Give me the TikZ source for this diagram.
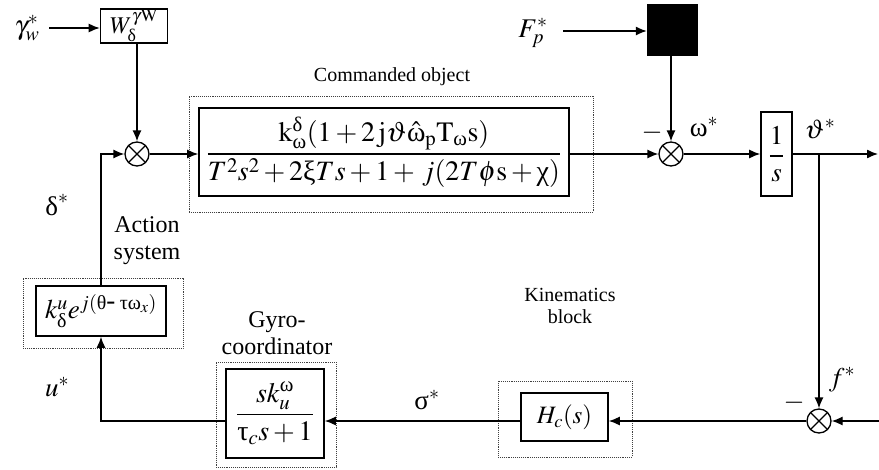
\documentclass[tikz,border=0pt]{standalone}
\usepackage{amsmath}
\usepackage{mathptmx}
\usepackage[no-math]{fontspec}
\setmainfont{Liberation Serif}
\usetikzlibrary{arrows.meta}
\newcommand{\gr}[1]{\text{\normalfont\upshape #1}}
\begin{document}
\begin{tikzpicture}[x=1pt,y=-1pt,
  blk/.style={draw,line width=1.6pt,inner sep=0pt,font=\fontsize{24}{28}\selectfont},
  frame/.style={draw=black!75,densely dotted,line width=0.9pt,inner sep=0pt},
  sumnode/.style={draw,circle,line width=1.3pt,minimum size=24pt,inner sep=0pt,
    path picture={\draw[line width=1.3pt] (path picture bounding box.north west)--(path picture bounding box.south east)
      (path picture bounding box.north east)--(path picture bounding box.south west);}},
  lbl/.style={inner sep=0pt,font=\fontsize{27}{30}\selectfont},
  captxt/.style={inner sep=0pt,font=\fontsize{20}{22}\selectfont,align=center},
  captxtb/.style={inner sep=0pt,font=\fontsize{24}{27}\selectfont,align=center},
  conn/.style={line width=1.3pt},
  arr/.style={conn,-{Latex[length=11pt,width=9pt]}}
]
\useasboundingbox (0,0) rectangle (879,469);

% frames
\node[frame,minimum width=404pt,minimum height=116pt] (cmdframe) at (391,154) {};
\node[frame,minimum width=160pt,minimum height=70pt] (actframe) at (103,313) {};
\node[frame,minimum width=120pt,minimum height=105pt] (gyroframe) at (276,414.5) {};
\node[frame,minimum width=134pt,minimum height=76pt] (hcframe) at (565,419) {};

% blocks
\node[blk,minimum width=67pt,minimum height=34pt] (W) at (134,26) {$W_{\gr{δ}}^{\gamma\mathrm{W}}$};
\node[blk,minimum width=370pt,minimum height=88pt] (cmd) at (384,152)
  {\fontsize{28}{32}\selectfont$\dfrac{\mathrm{k}_{\gr{ω}}^{\gr{δ}}(1+2\,\mathrm{j}\vartheta\hat{\gr{ω}}_\mathrm{p}\mathrm{T}_{\gr{ω}}\mathrm{s})}{T^2s^2+2\gr{ξ} Ts+1+\,j(2T\phi\mathrm{s}+\gr{χ})}$};
\node[draw,fill=black,minimum width=50pt,minimum height=51pt,inner sep=0pt] (F) at (672,30) {};
\node[blk,minimum width=31pt,minimum height=84pt,font=\fontsize{27}{31}\selectfont] (int) at (776.5,154) {$\dfrac{1}{s}$};
\node[blk,minimum width=87pt,minimum height=48pt,font=\fontsize{25}{29}\selectfont] (Hc) at (564.5,417) {$H_c(s)$};
\node[blk,minimum width=98pt,minimum height=89pt,font=\fontsize{28}{32}\selectfont] (gyro) at (275,413.5) {$\dfrac{sk_u^{\gr{ω}}}{\gr{τ}_c s+1}$};
\node[blk,minimum width=130pt,minimum height=50pt,font=\fontsize{27}{31}\selectfont] (act) at (101,311) {$k_{\gr{δ}}^u e^{j(\gr{θ}\mbox{-}\;\gr{τω}_x)}$};

% summing junctions
\node[sumnode] (s1) at (137,154) {};
\node[sumnode] (s2) at (671,154) {};
\node[sumnode] (s3) at (819,421) {};

% labels
\node[lbl] (gw) at (27,28) {$\gamma_w^*$};
\node[lbl] (Fp) at (533,33) {$F_p^*$};
\node[captxt] (cmdcap) at (392,77) {Commanded object};
\node[lbl] (om) at (704,127) {$\gr{ω}^*$};
\node[lbl] (th) at (820,129) {$\vartheta^*$};
\node[lbl] (m2) at (652,133) {$-$};
\node[lbl] (m3) at (794,403) {$-$};
\node[lbl] (fs) at (842,380) {$f^*$};
\node[captxt] (kin) at (570,306) {Kinematics\\block};
\node[lbl] (sg) at (427,400) {$\gr{σ}^*$};
\node[captxtb] (gyc) at (277,333) {Gyro-\\coordinator};
\node[lbl] (us) at (57,387) {$u^*$};
\node[captxtb] (actc) at (147,241) {Action\\system};
\node[lbl] (ds) at (57,205) {$\gr{δ}^*$};

\coordinate (gwend) at (49,28);
\coordinate (fpend) at (563,31);
\coordinate (out) at (878,154);
\coordinate (in) at (879,421);

% connectors
\draw[arr] (gwend) -- (gwend -| W.west);
\draw[arr] (s1 |- W.south) -- (s1.north);
\draw[arr] (act.north) |- (s1.west);
\draw[arr] (s1.east) -- (s1.east -| cmd.west);
\draw[arr] (fpend) -- (fpend -| F.west);
\draw[arr] (s2 |- F.south) -- (s2.north);
\draw[arr] (s2.east -| cmd.east) -- (s2.west);
\draw[arr] (s2.east) -- (s2.east -| int.west);
\draw[arr] (int.east) -- (out);
\draw[arr] (s3 |- int.east) -- (s3.north);
\draw[arr] (in) -- (s3.east);
\draw[arr] (s3.west) -- (s3.west -| Hc.east);
\draw[arr] (s3.west -| Hc.west) -- (s3.west -| gyro.east);
\draw[arr] (gyro.west |- s3.west) -| (act.south);
\end{tikzpicture}
\end{document}
